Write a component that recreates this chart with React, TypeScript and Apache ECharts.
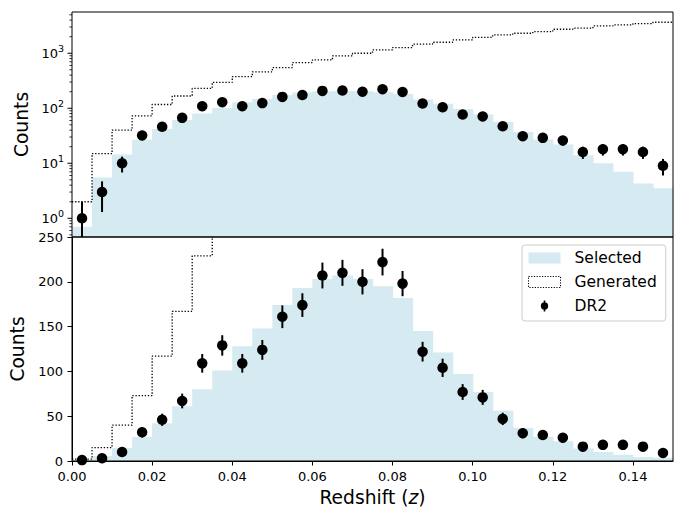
import React, { useEffect, useRef } from 'react';
import * as echarts from 'echarts';

const FONT = 'DejaVu Sans';
const FILL = '#d5eaf1';

const binWidth = 0.005;
const binCenters = [
  0.0025, 0.0075, 0.0125, 0.0175, 0.0225, 0.0275, 0.0325, 0.0375, 0.0425, 0.0475,
  0.0525, 0.0575, 0.0625, 0.0675, 0.0725, 0.0775, 0.0825, 0.0875, 0.0925, 0.0975,
  0.1025, 0.1075, 0.1125, 0.1175, 0.1225, 0.1275, 0.1325, 0.1375, 0.1425, 0.1475,
];
const selected = [
  0.7, 5.5, 14.5, 26.7, 42, 61, 80, 101, 128, 148,
  174, 193, 203, 207, 203, 195, 182, 145, 121, 97,
  77, 56, 37, 27, 22, 14, 10, 7, 4.3, 3.5,
];
const generated = [
  2.0, 15, 40, 73, 117, 167, 229, 296, 376, 457,
  547, 676, 755, 893, 1000, 1150, 1265, 1460, 1585, 1745,
  1950, 2150, 2310, 2470, 2730, 2850, 3140, 3270, 3460, 3660,
];
const dr2 = [
  1, 3, 10, 32, 46, 67, 109, 129, 109, 124,
  161, 174, 207, 210, 200, 222, 198, 122, 104, 77,
  71, 47, 31, 29, 26, 16, 18, 18, 16, 9,
];
const dr2Err = [
  1, 1.7, 3.2, 5.7, 6.8, 8.2, 10.4, 11.4, 10.4, 11.1,
  12.7, 13.2, 14.4, 14.5, 14.1, 14.9, 14.1, 11, 10.2, 8.8,
  8.4, 6.9, 5.6, 5.4, 5.1, 4, 4.2, 4.2, 4, 3,
];

const xTicks = [0, 0.02, 0.04, 0.06, 0.08, 0.1, 0.12, 0.14];
const logMajorTicks = [1, 10, 100, 1000];
const logMajorExponents = ['0', '1', '2', '3'];
const logMinorTicks = [
  0.5, 0.6, 0.7, 0.8, 0.9,
  2, 3, 4, 5, 6, 7, 8, 9,
  20, 30, 40, 50, 60, 70, 80, 90,
  200, 300, 400, 500, 600, 700, 800, 900,
  2000, 3000, 4000, 5000,
];

const X_MIN = 0;
const X_MAX = 0.15;
const LOG_MIN = 0.457;
const LOG_MAX = 5620;
const LIN_MIN = 0;
const LIN_MAX = 250;

function histSeries(gridIdx: number, base: number) {
  return {
    name: 'Selected',
    type: 'custom',
    xAxisIndex: gridIdx,
    yAxisIndex: gridIdx,
    z: 1,
    silent: true,
    encode: { x: 0, y: 1 },
    data: binCenters.map((c, i) => [c, selected[i]]),
    renderItem: (params: any, api: any) => {
      const c = api.value(0);
      const v = api.value(1);
      const p1 = api.coord([c - binWidth / 2, v]);
      const p2 = api.coord([c + binWidth / 2, base]);
      return {
        type: 'rect',
        shape: { x: p1[0], y: p1[1], width: p2[0] - p1[0] + 0.6, height: p2[1] - p1[1] },
        style: { fill: FILL },
      };
    },
  };
}

function generatedSeries(gridIdx: number) {
  const pts = binCenters.map((c, i) => [c - binWidth / 2, generated[i]]);
  pts.push([X_MAX, generated[generated.length - 1]]);
  return {
    name: 'Generated',
    type: 'line',
    xAxisIndex: gridIdx,
    yAxisIndex: gridIdx,
    step: 'end',
    symbol: 'none',
    z: 2,
    silent: true,
    clip: true,
    data: pts,
    lineStyle: { color: '#000', width: 1.3, type: [1.3, 1.8] },
  };
}

function errSeries(gridIdx: number, floor: number) {
  return {
    name: 'DR2 error',
    type: 'custom',
    xAxisIndex: gridIdx,
    yAxisIndex: gridIdx,
    z: 3,
    silent: true,
    encode: { x: 0, y: 1 },
    data: binCenters.map((c, i) => [c, dr2[i], dr2Err[i]]),
    renderItem: (params: any, api: any) => {
      const x = api.value(0);
      const v = api.value(1);
      const e = api.value(2);
      const lo = Math.max(v - e, floor);
      const p1 = api.coord([x, v + e]);
      const p2 = api.coord([x, lo]);
      return {
        type: 'line',
        shape: { x1: p1[0], y1: p1[1], x2: p2[0], y2: p2[1] },
        style: { stroke: '#000', lineWidth: 2 },
      };
    },
  };
}

function pointSeries(gridIdx: number) {
  return {
    name: 'DR2',
    type: 'scatter',
    xAxisIndex: gridIdx,
    yAxisIndex: gridIdx,
    z: 4,
    silent: true,
    symbol: 'circle',
    symbolSize: 10.5,
    itemStyle: { color: '#000', opacity: 1 },
    data: binCenters.map((c, i) => [c, dr2[i]]),
  };
}

const logTickData = [
  ...logMajorTicks.map((v, i) => [X_MIN, v, 1, i]),
  ...logMinorTicks.map((v) => [X_MIN, v, 0, -1]),
];

const logTickSeries = {
  name: 'log ticks',
  type: 'custom',
  xAxisIndex: 0,
  yAxisIndex: 0,
  z: 12,
  silent: true,
  clip: false,
  encode: { x: 0, y: 1 },
  data: logTickData,
  renderItem: (params: any, api: any) => {
    const v = api.value(1);
    const major = api.value(2) === 1;
    const idx = api.value(3);
    const p = api.coord([X_MIN, v]);
    const len = major ? 4.5 : 2.6;
    const children: any[] = [
      {
        type: 'line',
        shape: { x1: p[0] - len, y1: p[1], x2: p[0], y2: p[1] },
        style: { stroke: '#000', lineWidth: major ? 1 : 0.8 },
      },
    ];
    if (major) {
      children.push({
        type: 'text',
        x: p[0] - 8,
        y: p[1],
        style: {
          text: `{a|10}{b|${logMajorExponents[idx]}}`,
          align: 'right',
          verticalAlign: 'middle',
          fill: '#000',
          rich: {
            a: { fontSize: 13, fontFamily: FONT, lineHeight: 19, fill: '#000' },
            b: { fontSize: 9.5, fontFamily: FONT, lineHeight: 11, verticalAlign: 'top', fill: '#000' },
          },
        },
      });
    }
    return { type: 'group', children };
  },
};

const option: any = {
  animation: false,
  backgroundColor: '#fff',
  textStyle: { fontFamily: FONT },
  grid: [
    { left: 72, right: 6, top: 12, height: 225, show: true, z: 10, borderColor: '#000', borderWidth: 1, backgroundColor: 'rgba(0,0,0,0)' },
    { left: 72, right: 6, top: 237, height: 225, show: true, z: 10, borderColor: '#000', borderWidth: 1, backgroundColor: 'rgba(0,0,0,0)' },
  ],
  xAxis: [
    {
      gridIndex: 0, type: 'value', min: X_MIN, max: X_MAX,
      axisLine: { show: false }, axisTick: { show: false }, axisLabel: { show: false }, splitLine: { show: false },
    },
    {
      gridIndex: 1, type: 'value', min: X_MIN, max: X_MAX, interval: 0.02,
      axisLine: { show: true, lineStyle: { color: '#000', width: 1 } },
      axisTick: { show: true, length: 4.5, customValues: xTicks, lineStyle: { color: '#000', width: 1 } },
      axisLabel: {
        customValues: xTicks,
        formatter: (v: number) => v.toFixed(2),
        fontSize: 13, fontFamily: FONT, color: '#000', margin: 9,
      },
      splitLine: { show: false },
      name: '{a|Redshift (}{b|z}{a|)}',
      nameLocation: 'middle',
      nameGap: 27,
      nameTextStyle: {
        rich: {
          a: { fontSize: 18.7, fontFamily: FONT, color: '#000' },
          b: { fontSize: 18.7, fontFamily: FONT, color: '#000', fontStyle: 'italic' },
        },
      },
    },
  ],
  yAxis: [
    {
      gridIndex: 0, type: 'log', min: LOG_MIN, max: LOG_MAX,
      axisLine: { show: false }, axisTick: { show: false }, axisLabel: { show: false }, splitLine: { show: false },
      name: 'Counts', nameLocation: 'middle', nameGap: 41,
      nameTextStyle: { fontSize: 18.7, fontFamily: FONT, color: '#000' },
    },
    {
      gridIndex: 1, type: 'value', min: LIN_MIN, max: LIN_MAX, interval: 50,
      axisLine: { show: true, lineStyle: { color: '#000', width: 1 } },
      axisTick: { show: true, length: 4.5, lineStyle: { color: '#000', width: 1 } },
      axisLabel: { fontSize: 13, fontFamily: FONT, color: '#000', margin: 9 },
      splitLine: { show: false },
      name: 'Counts', nameLocation: 'middle', nameGap: 41,
      nameTextStyle: { fontSize: 18.7, fontFamily: FONT, color: '#000' },
    },
  ],
  legend: {
    orient: 'vertical',
    left: 522,
    top: 245,
    itemWidth: 32,
    itemHeight: 11,
    itemGap: 8,
    padding: [5, 9, 7, 6],
    backgroundColor: 'rgba(255,255,255,0.8)',
    borderColor: '#cccccc',
    borderWidth: 1,
    borderRadius: 3,
    selectedMode: false,
    textStyle: { fontSize: 15.5, fontFamily: FONT, color: '#000', lineHeight: 16, padding: [0, 0, 0, 9] },
    data: [
      { name: 'Selected', icon: 'rect', itemStyle: { color: FILL, borderWidth: 0 } },
      { name: 'Generated', icon: 'rect', itemStyle: { color: 'rgba(0,0,0,0)', borderColor: '#000', borderWidth: 1, borderType: [1.2, 1.5] } },
      {
        name: 'DR2',
        icon: 'path://M-0.9,-6L0.9,-6L0.9,-3L-0.9,-3Z M-0.9,3L0.9,3L0.9,6L-0.9,6Z M-4,0A4,4 0 1,1 4,0A4,4 0 1,1 -4,0Z',
        itemStyle: { color: '#000', borderWidth: 0, opacity: 1 },
      },
    ],
  },
  series: [
    histSeries(0, LOG_MIN),
    generatedSeries(0),
    errSeries(0, LOG_MIN),
    pointSeries(0),
    logTickSeries,
    histSeries(1, LIN_MIN),
    generatedSeries(1),
    errSeries(1, LIN_MIN),
    pointSeries(1),
  ],
};

export default function App() {
  const ref = useRef<HTMLDivElement>(null);
  useEffect(() => {
    document.body.style.margin = '0';
    const chart = echarts.init(ref.current!, null, { renderer: 'svg' });
    chart.setOption(option);
    return () => chart.dispose();
  }, []);
  return <div ref={ref} style={{ width: 679, height: 508, position: 'absolute', left: 0, top: 0 }} />;
}
